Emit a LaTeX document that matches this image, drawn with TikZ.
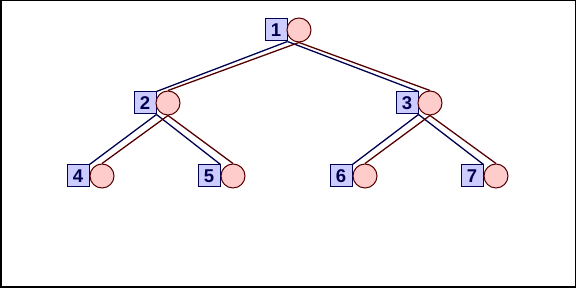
\documentclass[tikz,border=0pt]{standalone}
\usepackage{fontspec}
\setmainfont{Liberation Sans}
\definecolor{sqfill}{RGB}{204,204,255}
\definecolor{sqline}{RGB}{0,0,80}
\definecolor{cifill}{RGB}{255,204,204}
\definecolor{ciline}{RGB}{85,0,0}
\tikzset{
  sq/.style={draw=sqline, fill=sqfill, line width=1pt, minimum size=22pt, inner sep=0pt,
    text=sqline, font=\fontsize{18.5}{18.5}\selectfont\bfseries},
  ci/.style={circle, draw=ciline, fill=cifill, line width=1pt, minimum size=24pt, inner sep=0pt},
  bl/.style={draw=sqline, line width=1.3pt},
  rd/.style={draw=ciline, line width=1.3pt},
}
\begin{document}
\begin{tikzpicture}[x=1pt,y=1pt]
\useasboundingbox (0,0) rectangle (576,288);
\draw[line width=1.5pt] (0.75,0.75) rectangle (575.25,287.25);
% level 1
\node[sq] (s1) at (276,258) {1};
\node[ci] (c1) at (299,258) {};
% level 2
\node[sq] (s2) at (145,185) {2};
\node[ci] (c2) at (168,185) {};
\node[sq] (s3) at (407,185) {3};
\node[ci] (c3) at (430,185) {};
% level 3
\node[sq] (s4) at (78,112) {4};
\node[ci] (c4) at (102,112) {};
\node[sq] (s5) at (209,112) {5};
\node[ci] (c5) at (233,112) {};
\node[sq] (s6) at (341,112) {6};
\node[ci] (c6) at (365,112) {};
\node[sq] (s7) at (472,112) {7};
\node[ci] (c7) at (496,112) {};
% edges
\draw[bl] (s1.south east) -- (s2.north east);
\draw[bl] (s1.south east) -- (s3.north east);
\draw[rd] (c1.south) -- (c2.north);
\draw[rd] (c1.south) -- (c3.north);
\draw[bl] (s2.south east) -- (s4.north east);
\draw[bl] (s2.south east) -- (s5.north east);
\draw[rd] (c2.south) -- (c4.north);
\draw[rd] (c2.south) -- (c5.north);
\draw[bl] (s3.south east) -- (s6.north east);
\draw[bl] (s3.south east) -- (s7.north east);
\draw[rd] (c3.south) -- (c6.north);
\draw[rd] (c3.south) -- (c7.north);
\end{tikzpicture}
\end{document}
